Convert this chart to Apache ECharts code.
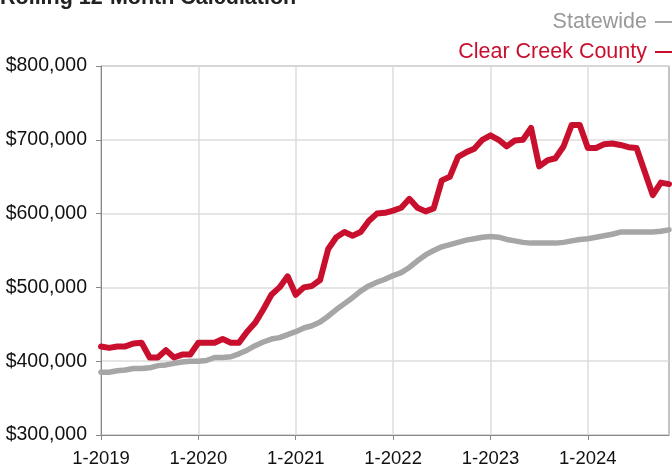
<!DOCTYPE html>
<html>
<head>
<meta charset="utf-8">
<script src="https://cdn.jsdelivr.net/npm/echarts@6/dist/echarts.min.js"></script>
<style>
html,body{margin:0;padding:0;background:#fff;}
#chart{width:672px;height:468px;}
</style>
</head>
<body>
<div id="chart"></div>
<script>
var years = [2019, 2020, 2021, 2022, 2023, 2024];
var lastMonth2024 = 11;
var seriesNames = ['Statewide', 'Clear Creek County'];
var clearCreek = [
  420, 418, 420, 420, 424, 425, 405, 405, 415, 405, 409, 409,
  425, 425, 425, 430, 425, 425, 440, 452, 470, 490, 500, 515,
  490, 500, 502, 510, 552, 568, 575, 570, 575, 590, 600, 601,
  604, 608, 620, 608, 603, 607, 645, 650, 677, 683, 688, 700,
  706, 700, 691, 699, 700, 716, 664, 672, 675, 691, 720, 720,
  689, 689, 694, 695, 693, 690, 689, 657, 625, 642, 640
];
var statewide = [
  385, 385, 387, 388, 390, 390, 391, 394, 395, 397, 399, 400,
  400, 401, 405, 405, 406, 410, 415, 421, 426, 430, 432, 436,
  440, 445, 448, 453, 461, 470, 478, 486, 495, 502, 507, 511,
  516, 520, 527, 536, 544, 550, 555, 558, 561, 564, 566, 568,
  569, 568, 565, 563, 561, 560, 560, 560, 560, 561, 563, 565,
  566, 568, 570, 572, 575, 575, 575, 575, 575, 576, 578
];
var titleText = 'Rolling 12-Month Calculation';

var categories = [];
years.forEach(function (y) {
  var last = (y === 2024) ? lastMonth2024 : 12;
  for (var m = 1; m <= last; m++) categories.push(m + '-' + y);
});

var font = '"Liberation Sans", Arial, Helvetica, sans-serif';
var RED = '#c8102e';
var GRAY = '#a6a6a6';

var chart = echarts.init(document.getElementById('chart'), null, {renderer: 'canvas'});
chart.setOption({
  animation: false,
  textStyle: {fontFamily: font},
  graphic: [{
    type: 'text', left: 0, top: -13,
    style: {text: titleText, font: 'bold 21.5px ' + font, fill: '#222'}
  }],
  legend: {
    orient: 'vertical', right: -8, top: 6,
    align: 'right', itemGap: 8,
    itemWidth: 20, itemHeight: 2, icon: 'rect',
    textStyle: {fontSize: 21.5, fontFamily: font, padding: [0, 3, 0, 0]},
    data: [
      {name: seriesNames[0], textStyle: {color: '#999'}},
      {name: seriesNames[1], textStyle: {color: RED}}
    ]
  },
  grid: {left: 101, right: 3, top: 66, bottom: 32, show: true, borderColor: '#888', borderWidth: 1},
  xAxis: {
    type: 'category', data: categories, boundaryGap: false,
    axisLine: {lineStyle: {color: '#888'}},
    axisTick: {interval: 11, length: 5, lineStyle: {color: '#888'}},
    axisLabel: {interval: 11, color: '#111', fontSize: 18.5, margin: 14, fontFamily: font},
    splitLine: {show: true, interval: 11, lineStyle: {color: '#dddddd', width: 1.5}}
  },
  yAxis: {
    type: 'value', min: 300, max: 800, interval: 100,
    axisLine: {show: true, lineStyle: {color: '#888'}},
    axisTick: {show: true, length: 5, lineStyle: {color: '#888'}},
    axisLabel: {color: '#111', fontSize: 19.5, margin: 14, fontFamily: font,
      formatter: function (v) { return '$' + v + ',000'; }},
    splitLine: {lineStyle: {color: '#dddddd', width: 1.5}}
  },
  series: [
    {name: seriesNames[0], type: 'line', data: statewide, showSymbol: false,
     color: GRAY, lineStyle: {width: 5.5, color: GRAY, cap: 'round', join: 'round'}, z: 2},
    {name: seriesNames[1], type: 'line', data: clearCreek, showSymbol: false,
     color: RED, lineStyle: {width: 6, color: RED, cap: 'round', join: 'round'}, z: 3}
  ]
});
</script>
</body>
</html>
